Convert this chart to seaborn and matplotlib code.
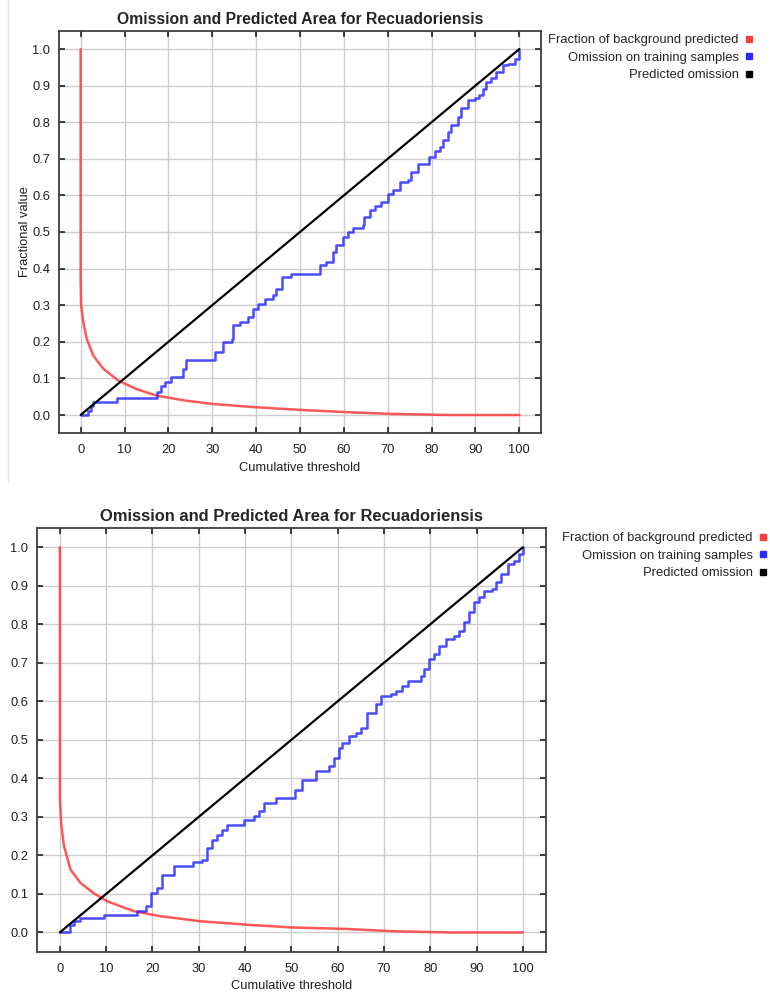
"""
Omission and predicted area (MaxEnt-style) - two runs stacked
"""
import matplotlib
matplotlib.use("Agg")
import matplotlib.pyplot as plt
from matplotlib.lines import Line2D
import seaborn as sns
import pandas as pd

# ── Data ──────────────────────────────────────────────────────────────────────
TITLE = "Omission and Predicted Area for Recuadoriensis"
LEGEND_LABELS = ["Fraction of background predicted", "Omission on training samples", "Predicted omission"]
X_TICKS = [0, 10, 20, 30, 40, 50, 60, 70, 80, 90, 100]
Y_TICKS = [0.0, 0.1, 0.2, 0.3, 0.4, 0.5, 0.6, 0.7, 0.8, 0.9, 1.0]

# predicted omission (straight line)
pred_x = [0, 100]
pred_y = [0.0, 1.0]

# run 1 (top panel)
bg1_x = [0, 0, 0.1, 0.6, 1.4, 2.9, 5.2, 8.6, 12.7, 17.3, 24.1, 30.2, 40.1, 50.0, 62.0, 71.0, 84.0, 100]
bg1_y = [1.0, 0.37, 0.30, 0.254, 0.208, 0.162, 0.126, 0.094, 0.071, 0.053, 0.039, 0.030, 0.021, 0.014, 0.007, 0.003, 0.0, 0.0]
om1_x = [0, 1.7, 2.3, 2.9, 8.2, 17.3, 18.4, 19.2, 20.7, 23.3, 24.1, 30.6, 32.5, 34.4, 34.8,
         36.3, 38.2, 39.3, 40.4, 42.0, 43.9, 44.6, 45.8, 48.0, 54.5, 56.0, 57.5, 58.3, 59.8,
         60.9, 62.1, 64.3, 64.7, 65.9, 67.0, 68.5, 70.0, 71.2, 72.7, 74.6, 75.3, 76.9, 79.5,
         80.7, 81.8, 82.5, 83.7, 84.4, 86.0, 86.7, 88.2, 89.8, 90.9, 91.7, 92.4, 93.6, 94.7,
         96.2, 97.3, 98.9, 100]
om1_y = [0.0, 0.012, 0.025, 0.035, 0.047, 0.062, 0.080, 0.090, 0.103, 0.126, 0.151, 0.173, 0.199, 0.208, 0.245,
         0.255, 0.267, 0.290, 0.304, 0.316, 0.327, 0.345, 0.377, 0.386, 0.409, 0.418, 0.445, 0.464, 0.486,
         0.500, 0.511, 0.518, 0.541, 0.559, 0.570, 0.582, 0.605, 0.614, 0.637, 0.641, 0.664, 0.687, 0.705,
         0.721, 0.733, 0.751, 0.774, 0.792, 0.815, 0.838, 0.860, 0.865, 0.874, 0.892, 0.911, 0.920, 0.938,
         0.956, 0.958, 0.974, 0.997]

# run 2 (bottom panel)
bg2_x = [0, 0, 0.3, 0.9, 2.3, 4.5, 7.3, 10.2, 16.0, 21.8, 30.4, 40.5, 49.9, 62.1, 72.2, 84.4, 100]
bg2_y = [1.0, 0.35, 0.28, 0.224, 0.163, 0.128, 0.102, 0.081, 0.055, 0.042, 0.029, 0.020, 0.013, 0.009, 0.003, 0.0, 0.0]
om2_x = [0, 1.2, 2.3, 3.0, 4.3, 9.5, 16.7, 18.7, 19.6, 21.0, 22.1, 24.6, 28.8, 30.8, 31.8, 32.9,
         34.0, 35.1, 36.2, 39.8, 41.9, 43.0, 44.1, 46.6, 50.8, 52.4, 55.3, 58.1, 59.2, 60.3, 61.0,
         62.5, 63.9, 65.0, 66.4, 68.2, 69.3, 71.5, 72.5, 74.0, 75.1, 77.9, 78.7, 79.8, 80.9, 81.9,
         83.4, 85.2, 86.2, 87.3, 88.4, 89.5, 90.6, 91.6, 93.4, 94.1, 95.2, 96.7, 98.1, 99.2, 100]
om2_y = [0.0, 0.0, 0.020, 0.030, 0.037, 0.046, 0.055, 0.068, 0.102, 0.115, 0.150, 0.173, 0.183, 0.189, 0.219, 0.241,
         0.254, 0.267, 0.280, 0.291, 0.302, 0.315, 0.337, 0.350, 0.371, 0.397, 0.419, 0.432, 0.454, 0.480, 0.493,
         0.510, 0.519, 0.532, 0.571, 0.592, 0.614, 0.618, 0.627, 0.640, 0.653, 0.666, 0.684, 0.709, 0.722, 0.744,
         0.761, 0.770, 0.783, 0.805, 0.831, 0.857, 0.870, 0.887, 0.892, 0.909, 0.931, 0.957, 0.965, 0.982, 1.0]

# ── Style ─────────────────────────────────────────────────────────────────────
RED, BLUE, BLACK = "#ff3b3b", "#2b2bff", "#000000"
sns.set_style("whitegrid", {"grid.color": "#cdcdcd", "axes.edgecolor": "#404040"})
plt.rcParams["font.family"] = ["Liberation Sans", "DejaVu Sans"]
plt.rcParams.update({"font.size": 9, "axes.linewidth": 1.3, "grid.linewidth": 1.0})

fig = plt.figure(figsize=(7.7, 9.94), dpi=100)
ax1 = fig.add_axes([58.7 / 770, 1 - 433.3 / 994, (541.3 - 58.7) / 770, (433.3 - 30.7) / 994])
ax2 = fig.add_axes([36.7 / 770, 1 - 951.7 / 994, (546.0 - 36.7) / 770, (951.7 - 528.0) / 994])

panels = [
    (ax1, bg1_x, bg1_y, om1_x, om1_y, 11.3, "Fractional value", (753 / 770, 1 - 34 / 994)),
    (ax2, bg2_x, bg2_y, om2_x, om2_y, 11.9, None, (767 / 770, 1 - 532 / 994)),
]

for ax, bx, by, ox, oy, tsize, ylab, anchor in panels:
    bg = pd.DataFrame({"x": bx, "y": by})
    om = pd.DataFrame({"x": ox, "y": oy})
    pr = pd.DataFrame({"x": pred_x, "y": pred_y})
    sns.lineplot(data=bg, x="x", y="y", ax=ax, color=RED, lw=1.8, alpha=0.85,
                 estimator=None, sort=False, zorder=3)
    sns.lineplot(data=om, x="x", y="y", ax=ax, color=BLUE, lw=1.8, alpha=0.85,
                 estimator=None, sort=False, drawstyle="steps-post", zorder=4)
    sns.lineplot(data=pr, x="x", y="y", ax=ax, color=BLACK, lw=1.6,
                 estimator=None, sort=False, zorder=5)

    ax.set_xlim(-5, 105)
    ax.set_ylim(-0.05, 1.05)
    ax.set_xticks(X_TICKS)
    ax.set_yticks(Y_TICKS)
    ax.set_yticklabels([f"{v:.1f}" for v in Y_TICKS])
    ax.tick_params(direction="in", length=4, width=1.2, color="#202020",
                   top=True, right=True, bottom=True, left=True,
                   labelsize=9.3, labelcolor="#202020")
    ax.tick_params(axis="x", pad=8)
    ax.tick_params(axis="y", pad=6)
    ax.set_xlabel("Cumulative threshold", fontsize=9.3, color="#202020", labelpad=4)
    ax.set_ylabel(ylab if ylab else "", fontsize=9.3, color="#202020", labelpad=1)
    ax.set_title(TITLE, fontsize=tsize, fontweight="bold", pad=5)
    for s in ax.spines.values():
        s.set_visible(True)

    handles = [Line2D([], [], ls="", marker="s", markersize=4, color=c) for c in (RED, BLUE, BLACK)]
    ax.legend(handles, LEGEND_LABELS, loc="upper right", bbox_to_anchor=anchor,
              bbox_transform=fig.transFigure, frameon=False, markerfirst=False,
              handlelength=0.6, handletextpad=0.5, labelspacing=0.42,
              borderpad=0, borderaxespad=0, fontsize=9.4)

# thin panel border at the far left of the upper chart
fig.add_artist(Line2D([8 / 770, 8 / 770], [1.0, 1 - 482 / 994], transform=fig.transFigure,
                      color="#dfe5ec", lw=1.0))

plt.savefig("out.png", dpi=100)
plt.close()
